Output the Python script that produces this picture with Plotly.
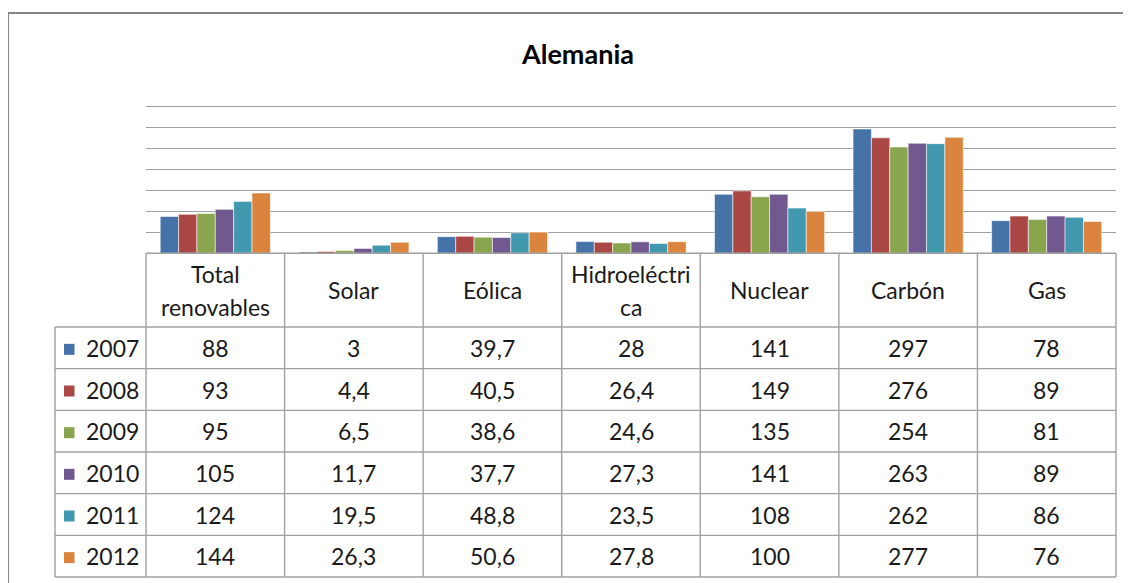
import plotly.graph_objects as go

categories = ["Total<br>renovables", "Solar", "Eólica", "Hidroeléctri<br>ca", "Nuclear", "Carbón", "Gas"]
years = ["2007", "2008", "2009", "2010", "2011", "2012"]
v2007 = [88, 3, 39.7, 28, 141, 297, 78]
v2008 = [93, 4.4, 40.5, 26.4, 149, 276, 89]
v2009 = [95, 6.5, 38.6, 24.6, 135, 254, 81]
v2010 = [105, 11.7, 37.7, 27.3, 141, 263, 89]
v2011 = [124, 19.5, 48.8, 23.5, 108, 262, 86]
v2012 = [144, 26.3, 50.6, 27.8, 100, 277, 76]
series = [v2007, v2008, v2009, v2010, v2011, v2012]
colors = ["#4572A7", "#AA4643", "#89A54E", "#71588F", "#4198AF", "#DB843D"]
title = "Alemania"

OFF = 8  # page body margin
W, H = 1131 - OFF, 583 - OFF
FONT = "Lato"
TXT = "#1a1a1a"
LINE = "#A0A0A0"
FS = 23


def px(x):
    return (x - OFF) / W


def py(y):
    return 1 - (y - OFF) / H


# layout geometry (window pixels)
x0, x1 = 146, 1116          # plot / table columns
lx0 = 55                    # legend column left
base = 253.3                # baseline of bars / top of table
ymax = 356
scale = (253.3 - 106.8) / 350
top = base - ymax * scale
row_top = 327
row_bot = 577
nrow = len(years)
rh = (row_bot - row_top) / nrow
ncat = len(categories)
cw = (x1 - x0) / ncat

fig = go.Figure()
for yr, vals, c in zip(years, series, colors):
    fig.add_trace(go.Bar(
        x=list(range(ncat)), y=vals, name=yr,
        marker=dict(color=c, line=dict(color="rgba(255,255,255,0.7)", width=0.8)),
        showlegend=False,
    ))

shapes = []
ann = []

# outer chart border
shapes.append(dict(type="rect", xref="paper", yref="paper",
                   x0=px(8), x1=px(1145), y0=py(600), y1=py(13),
                   line=dict(color="#868686", width=2), layer="below"))

# table horizontal lines
shapes.append(dict(type="line", xref="paper", yref="paper",
                   x0=px(x0), x1=px(x1), y0=py(base), y1=py(base),
                   line=dict(color=LINE, width=1.4)))
for i in range(nrow + 1):
    yy = row_top + i * rh
    shapes.append(dict(type="line", xref="paper", yref="paper",
                       x0=px(lx0), x1=px(x1), y0=py(yy), y1=py(yy),
                       line=dict(color=LINE, width=1.4)))
# vertical lines
for j in range(ncat + 1):
    xx = x0 + j * cw
    shapes.append(dict(type="line", xref="paper", yref="paper",
                       x0=px(xx), x1=px(xx), y0=py(base), y1=py(row_bot),
                       line=dict(color=LINE, width=1.4)))
shapes.append(dict(type="line", xref="paper", yref="paper",
                   x0=px(lx0), x1=px(lx0), y0=py(row_top), y1=py(row_bot),
                   line=dict(color=LINE, width=1.4)))

# header texts
hc = (base + row_top) / 2
for j, cat in enumerate(categories):
    cx = x0 + (j + 0.5) * cw
    parts = cat.split("<br>")
    n = len(parts)
    for k, p in enumerate(parts):
        yy = hc + (k - (n - 1) / 2) * 33
        ann.append(dict(text=p, xref="paper", yref="paper", x=px(cx), y=py(yy),
                        xanchor="center", yanchor="middle", showarrow=False,
                        font=dict(family=FONT, size=FS, color=TXT)))


def fmt(v):
    return f"{v:g}".replace(".", ",")


for i, (yr, vals, c) in enumerate(zip(years, series, colors)):
    cy = row_top + (i + 0.5) * rh
    shapes.append(dict(type="rect", xref="paper", yref="paper",
                       x0=px(64), x1=px(74.5), y0=py(cy + 7), y1=py(cy - 4),
                       fillcolor=c, line=dict(width=0)))
    ann.append(dict(text=yr, xref="paper", yref="paper", x=px(84), y=py(cy),
                    xanchor="left", yanchor="middle", showarrow=False,
                    font=dict(family=FONT, size=FS, color=TXT)))
    for j, v in enumerate(vals):
        cx = x0 + (j + 0.5) * cw
        ann.append(dict(text=fmt(v), xref="paper", yref="paper", x=px(cx), y=py(cy),
                        xanchor="center", yanchor="middle", showarrow=False,
                        font=dict(family=FONT, size=FS, color=TXT)))

# title
ann.append(dict(text=f"<b>{title}</b>", xref="paper", yref="paper", x=px(577), y=py(54),
                xanchor="center", yanchor="middle", showarrow=False,
                font=dict(family=FONT, size=27, color="#000000")))

fig.update_layout(
    width=W, height=H,
    margin=dict(l=0, r=0, t=0, b=0),
    paper_bgcolor="white", plot_bgcolor="white",
    barmode="group", bargap=0.205, bargroupgap=0,
    xaxis=dict(domain=[px(x0), px(x1)], range=[-0.5, ncat - 0.5],
               showticklabels=False, showgrid=False, zeroline=False, showline=False,
               ticks=""),
    yaxis=dict(domain=[py(base), py(top)], range=[0, ymax], dtick=50,
               showticklabels=False, showgrid=True, gridcolor="#A0A0A0", gridwidth=1.4,
               zeroline=False, showline=False, ticks=""),
    shapes=shapes, annotations=ann,
    font=dict(family=FONT),
)

fig.write_html("out.html")
